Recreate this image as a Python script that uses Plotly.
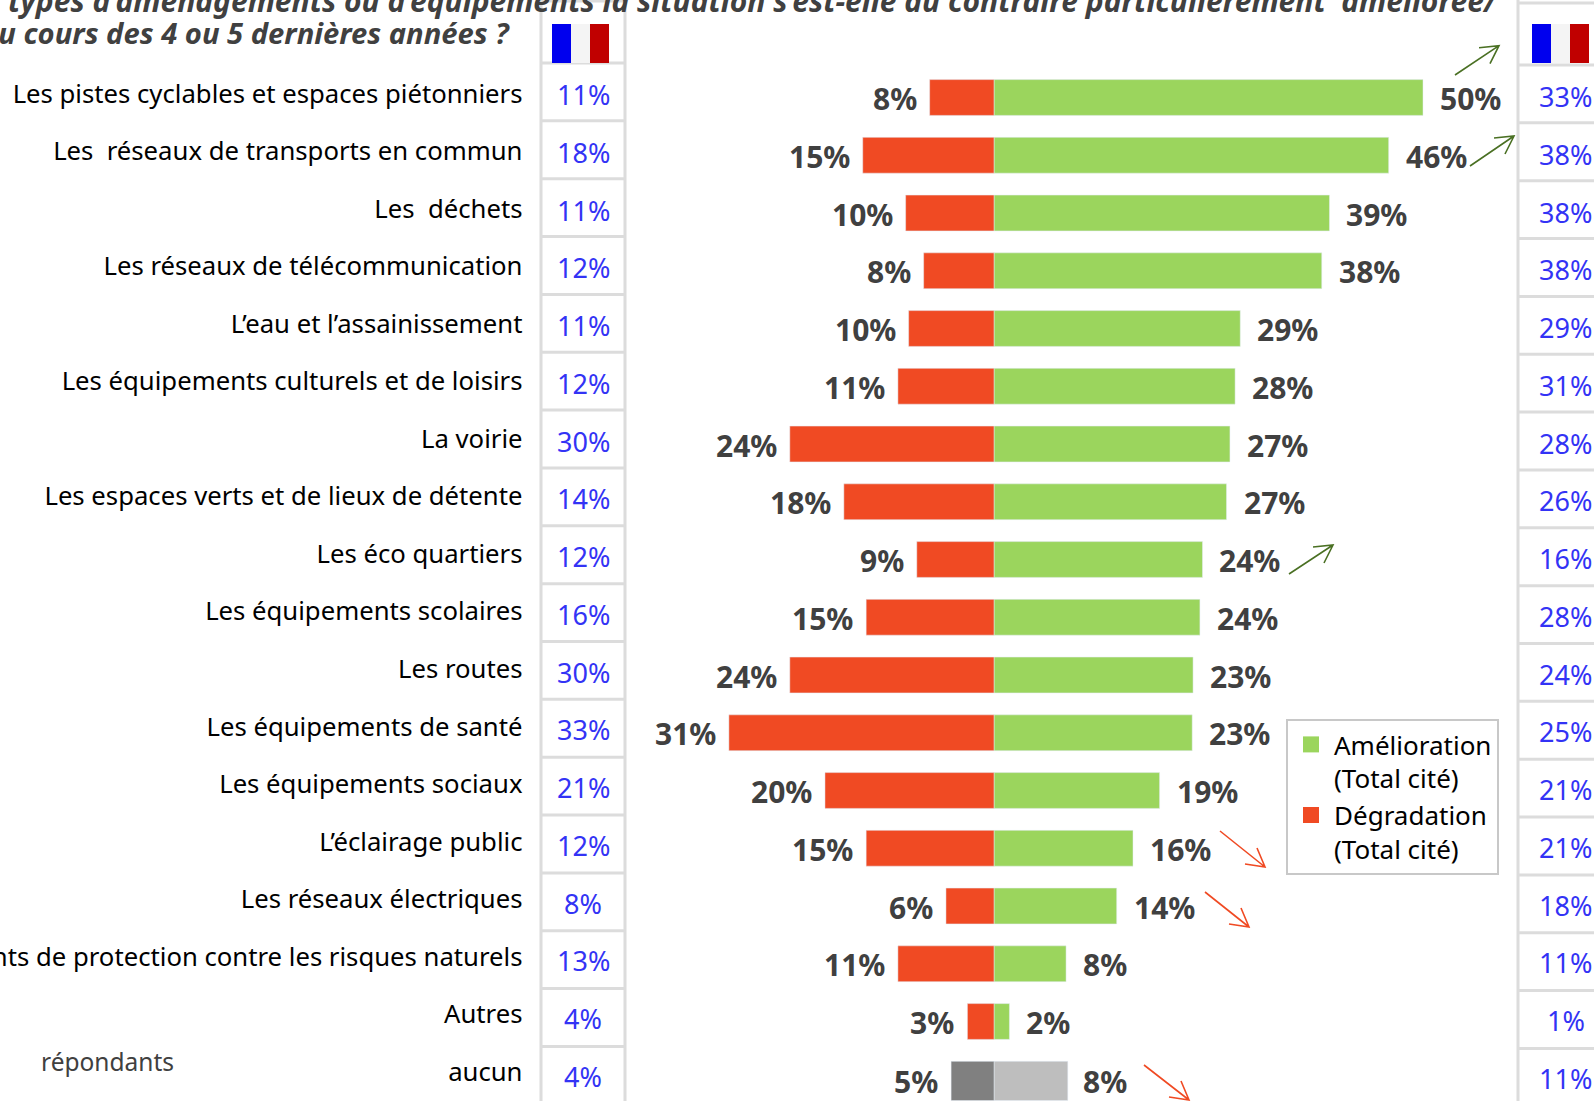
import plotly.graph_objects as go

W, H = 1594, 1101
X0, PX = 994.0, 8.58          # pixel of zero, pixels per percent
Y0, ROW = 97.5, 57.75         # pixel of first row, pixels per row

categories = ["Les pistes cyclables et espaces piétonniers", "Les  réseaux de transports en commun", "Les  déchets",
              "Les réseaux de télécommunication", "L’eau et l’assainissement", "Les équipements culturels et de loisirs",
              "La voirie", "Les espaces verts et de lieux de détente", "Les éco quartiers", "Les équipements scolaires",
              "Les routes", "Les équipements de santé", "Les équipements sociaux", "L’éclairage public",
              "Les réseaux électriques", "Les équipements de protection contre les risques naturels", "Autres", "aucun"]
improve_bar = [50, 46, 39.1, 38.2, 28.7, 28.1, 27.5, 27.1, 24.3, 24.0, 23.2, 23.1, 19.3, 16.2, 14.3, 8.4, 1.8]
degrade_bar = [7.5, 15.3, 10.3, 8.2, 9.95, 11.2, 23.8, 17.5, 9.0, 14.9, 23.8, 30.9, 19.7, 14.9, 5.6, 11.2, 3.1]
improve_lbl = [50, 46, 39, 38, 29, 28, 27, 27, 24, 24, 23, 23, 19, 16, 14, 8, 2]
degrade_lbl = [8, 15, 10, 8, 10, 11, 24, 18, 9, 15, 24, 31, 20, 15, 6, 11, 3]
aucun_left, aucun_right = 5.0, 8.6
aucun_left_lbl, aucun_right_lbl = 5, 8
france_degrade = [11, 18, 11, 12, 11, 12, 30, 14, 12, 16, 30, 33, 21, 12, 8, 13, 4, 4]
france_improve = [33, 38, 38, 38, 29, 31, 28, 26, 16, 28, 24, 25, 21, 21, 18, 11, 1, 11]

GREEN, RED, DGRAY, LGRAY = "#9BD55D", "#F04A23", "#808080", "#BEBEBE"
TXT = "#404040"; BLUE = "#3333F5"
FONT = "Noto Sans"

n = len(improve_bar)
rows = list(range(n))
AUCUN = 17.03

def px(x): return x / W
def py(y): return 1 - y / H

fig = go.Figure()
fig.add_bar(y=rows, x=improve_bar, orientation="h", name="Amélioration", marker_color=GREEN, width=0.62,
            legendgroup="a", showlegend=False)
fig.add_bar(y=rows, x=[-v for v in degrade_bar], orientation="h", name="Dégradation", marker_color=RED, width=0.62,
            legendgroup="d", showlegend=False)
fig.add_bar(y=[AUCUN], x=[aucun_right], orientation="h", marker_color=LGRAY, width=0.68, showlegend=False)
fig.add_bar(y=[AUCUN], x=[-aucun_left], orientation="h", marker_color=DGRAY, width=0.68, showlegend=False)
fig.add_scatter(x=[0]*len(categories), y=list(range(len(categories))), yaxis="y2", mode="markers",
                marker_opacity=0, hoverinfo="skip", showlegend=False)
# legend entries: square swatches of the size seen in the reference
fig.add_scatter(x=[None], y=[None], mode="markers", name="Amélioration<br>(Total cité)", legendgroup="a",
                marker=dict(symbol="square", size=16, color=GREEN))
fig.add_scatter(x=[None], y=[None], mode="markers", name="Dégradation<br>(Total cité)", legendgroup="d",
                marker=dict(symbol="square", size=16, color=RED))

ann = []
def bold(x, y, t, anchor, xs):
    ann.append(dict(x=x, y=y, text=f"<b>{t}%</b>", xref="x", yref="y", showarrow=False, xanchor=anchor, xshift=xs, yshift=-1,
                    font=dict(family=FONT, size=30, color=TXT)))
for i in rows:
    bold(improve_bar[i], i, improve_lbl[i], "left", 15)
    bold(-degrade_bar[i], i, degrade_lbl[i], "right", -11)
bold(aucun_right, AUCUN, aucun_right_lbl, "left", 13)
bold(-aucun_left, AUCUN, aucun_left_lbl, "right", -11)

for i, v in enumerate(france_degrade):
    ann.append(dict(x=px(583), y=i, xref="paper", yref="y", xanchor="center", text=f"{v}%", showarrow=False, yshift=3,
                    font=dict(family=FONT, size=27, color=BLUE)))
for i, v in enumerate(france_improve):
    ann.append(dict(x=px(1565.5), y=i, xref="paper", yref="y", xanchor="center", text=f"{v}%", showarrow=False, yshift=1,
                    font=dict(family=FONT, size=27, color=BLUE)))

ann.append(dict(x=px(512), y=py(33), xref="paper", yref="paper", xanchor="right", yanchor="middle", showarrow=False,
                text="<b><i>au cours des 4 ou 5 dernières années ?</i></b>", font=dict(family=FONT, size=29.2, color=TXT)))
ann.append(dict(x=px(1501), y=py(0), xref="paper", yref="paper", xanchor="right", yanchor="middle", showarrow=False,
                text="<b><i>types d’aménagements ou d’équipements la situation s’est-elle au contraire particulièrement  améliorée/</i></b>",
                font=dict(family=FONT, size=30, color=TXT)))
ann.append(dict(x=px(39), y=py(1061), xref="paper", yref="paper", xanchor="left", yanchor="middle", showarrow=False,
                text="répondants", font=dict(family=FONT, size=24.5, color=TXT)))

shapes = []
def seg(x0, y0, x1, y1, c="#DCDCDC", w=3):
    shapes.append(dict(type="line", xref="paper", yref="paper", x0=px(x0), y0=py(y0), x1=px(x1), y1=py(y1),
                       line=dict(color=c, width=w), layer="below"))
def rect(x0, y0, x1, y1, c):
    shapes.append(dict(type="rect", xref="paper", yref="paper", x0=px(x0), y0=py(y0), x1=px(x1), y1=py(y1),
                       line_width=0, fillcolor=c, layer="below"))
# grid of the two France columns
seg(541, 0, 541, H); seg(625, 0, 625, H); seg(541, 1, 625, 1)
seg(1518, 0, 1518, H); seg(1518, 3, W, 3)
for i in range(18):
    yl = 63 + 57.85 * i
    seg(541, yl, 625, yl)
    yr = 65 + 57.85 * i
    seg(1518, yr, W, yr)
# flags
for x in (552, 1532):
    rect(x, 24, x + 19, 63, "#0000EE")
    rect(x + 19, 24, x + 38, 63, "#F4F4F4")
    rect(x + 38, 24, x + 57, 63, "#C00000")

def arrow(x0, y0, x1, y1, w1, w2, c):
    p = f"M {px(x0)} {py(y0)} L {px(x1)} {py(y1)} M {px(x1+w1[0])} {py(y1+w1[1])} L {px(x1)} {py(y1)} L {px(x1+w2[0])} {py(y1+w2[1])}"
    shapes.append(dict(type="path", xref="paper", yref="paper", path=p, line=dict(color=c, width=1.6)))
G = "#4A7023"
for a in [(1455, 75, 1499, 45.7), (1470, 166, 1514, 136), (1289, 574, 1333, 545)]:
    arrow(*a, (-20, 2), (-9, 18), G)
for a in [(1220, 831, 1265, 867), (1205, 892, 1249, 927), (1144, 1065, 1189, 1100)]:
    arrow(*a, (-20, -3), (-8, -19), RED)

fig.update_layout(
    width=W, height=H, margin=dict(l=0, r=0, t=0, b=0, autoexpand=False), autosize=False,
    barmode="overlay", plot_bgcolor="white", paper_bgcolor="white",
    font=dict(family=FONT, color="black"),
    annotations=ann, shapes=shapes,
    xaxis=dict(range=[-X0 / PX, (W - X0) / PX], visible=False, fixedrange=True),
    yaxis=dict(range=[(H - Y0) / ROW, -Y0 / ROW], visible=False, fixedrange=True),
    yaxis2=dict(range=[(H - 93.5) / 57.55, -93.5 / 57.55], overlaying="y", anchor="free", position=522.5 / W, side="left",
                tickmode="array", tickvals=list(range(len(categories))), ticktext=categories,
                showgrid=False, zeroline=False, showline=False, ticks="", fixedrange=True,
                tickfont=dict(family=FONT, size=25.7, color="black")),
    legend=dict(x=px(1286), y=py(719), xanchor="left", yanchor="top", bgcolor="white", bordercolor="#C8C8C8", borderwidth=2,
                font=dict(family=FONT, size=26, color="black"), traceorder="normal", itemwidth=36, itemsizing="trace",
                valign="top"),
)
fig.write_html("out.html", config=dict(displayModeBar=False),
               post_script="document.body.style.margin='0';document.body.style.overflow='hidden';")
